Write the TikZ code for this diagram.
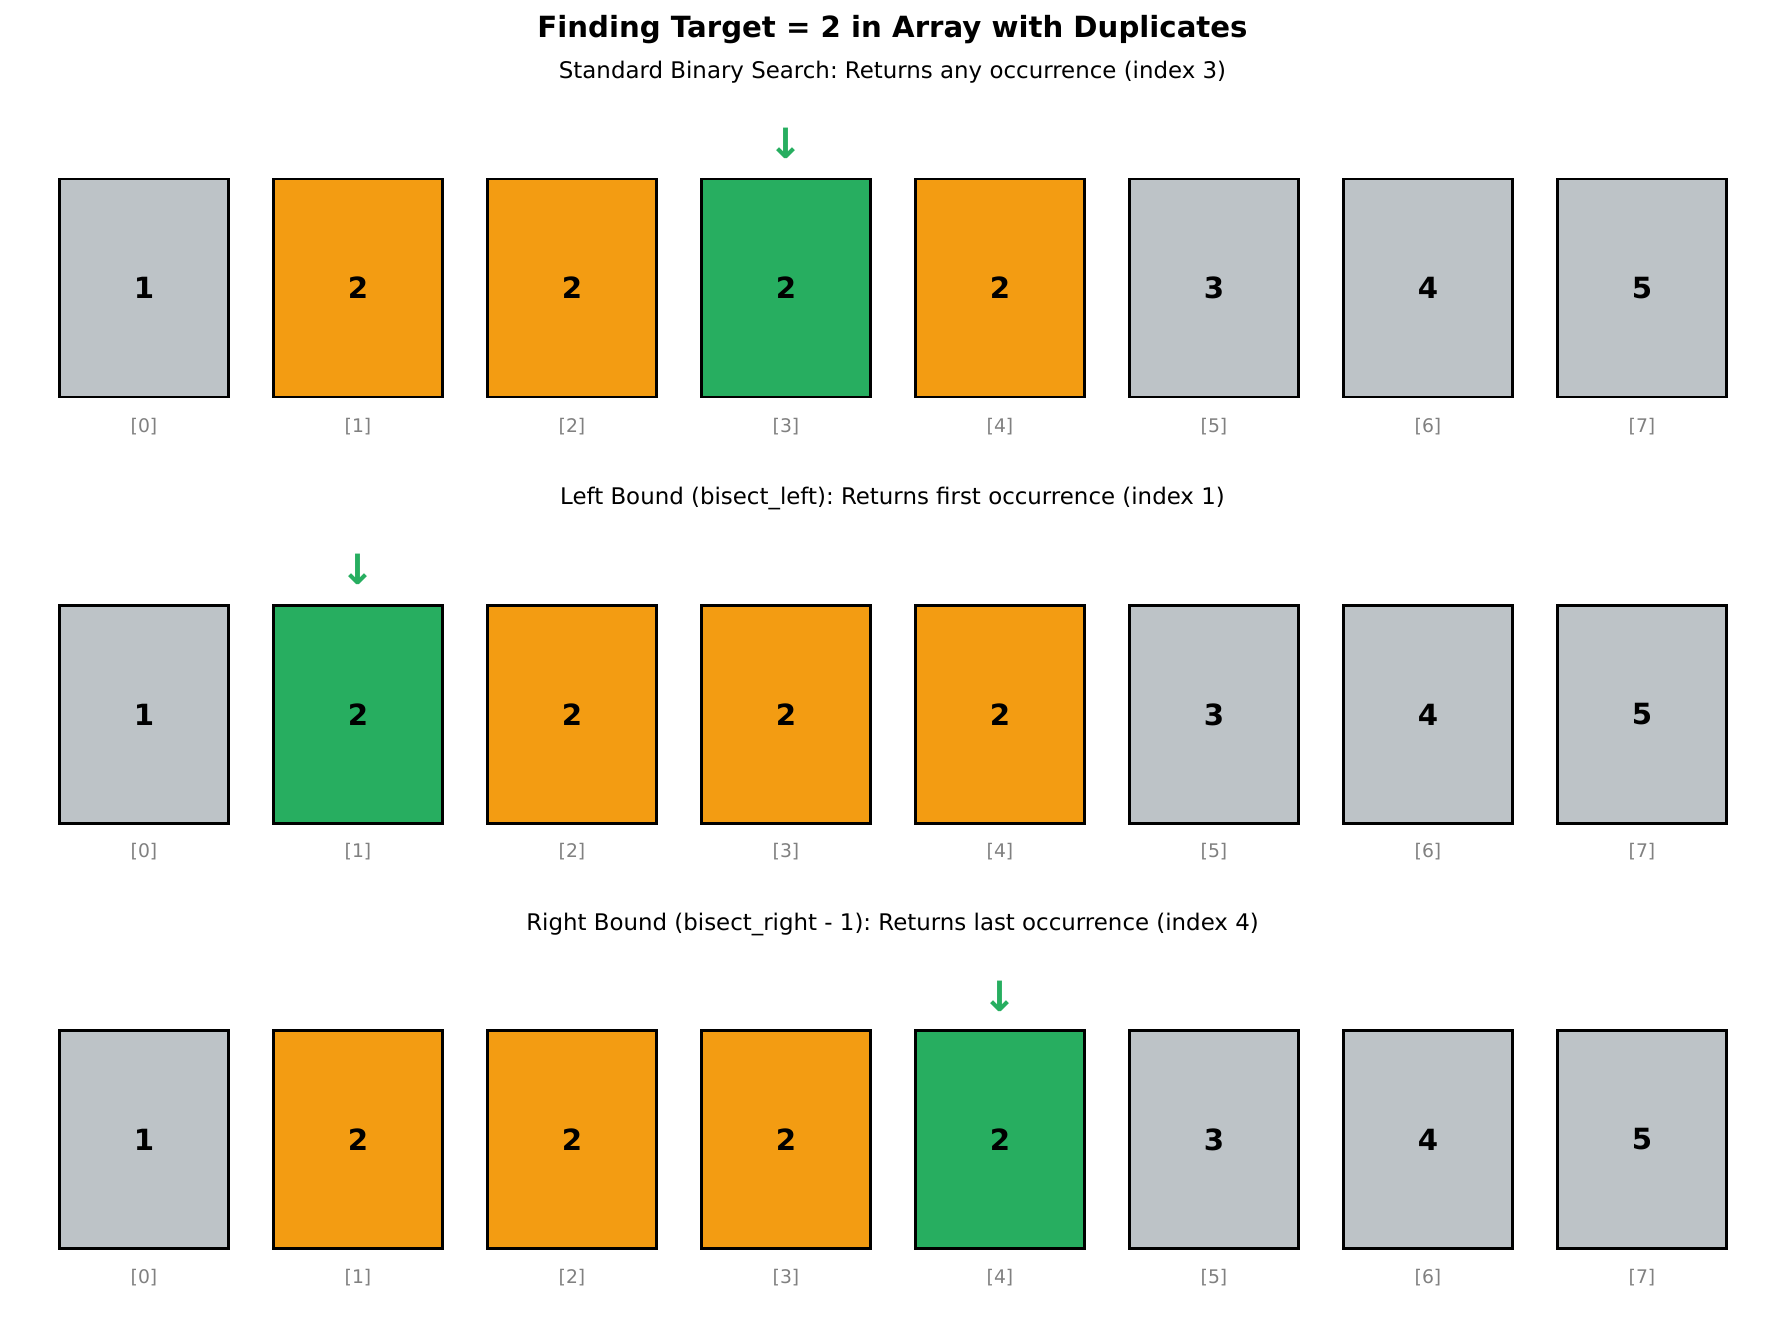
\documentclass[tikz,border=0pt]{standalone}
\usepackage{fontspec}
\setmainfont{DejaVu Sans}
\frenchspacing
\definecolor{cgray}{HTML}{BDC3C7}
\definecolor{corange}{HTML}{F39C12}
\definecolor{cgreen}{HTML}{27AE60}
\definecolor{cidx}{HTML}{808080}
\begin{document}
\begin{tikzpicture}[x=1pt,y=-1pt,
  cell/.style={draw=black,line width=2.8pt,minimum width=169pt,minimum height=218pt,inner sep=0pt,
    font=\fontsize{29.2}{34}\selectfont\bfseries},
  idx/.style={text=cidx,font=\fontsize{18.75}{22}\selectfont},
  sub/.style={font=\fontsize{22.9}{27}\selectfont},
  ttl/.style={font=\fontsize{29.2}{34}\selectfont\bfseries},
  ptr/.style={text=cgreen,font=\fontsize{41.7}{48}\selectfont\bfseries}]
\useasboundingbox (0,0) rectangle (1785,1330);
\node[ttl] (title) at (892.5,30) {Finding Target = 2 in Array with Duplicates};
\node[sub] (s1) at (892.5,72) {Standard Binary Search: Returns any occurrence (index 3)};
\node[sub] (s2) at (892.5,498) {Left Bound (bisect\_left): Returns first occurrence (index 1)};
\node[sub] (s3) at (892.5,924) {Right Bound (bisect\_right - 1): Returns last occurrence (index 4)};
\foreach \i/\v/\c in {0/1/cgray,1/2/corange,2/2/corange,3/2/cgreen,4/2/corange,5/3/cgray,6/4/cgray,7/5/cgray}{
  \node[cell,fill=\c] (a\i) at (144+214*\i,288) {\v};
  \node[idx] (ai\i) at (144+214*\i,427) {[\i]};
}
\foreach \i/\v/\c in {0/1/cgray,1/2/cgreen,2/2/corange,3/2/corange,4/2/corange,5/3/cgray,6/4/cgray,7/5/cgray}{
  \node[cell,fill=\c] (b\i) at (144+214*\i,714.5) {\v};
  \node[idx] (bi\i) at (144+214*\i,852) {[\i]};
}
\foreach \i/\v/\c in {0/1/cgray,1/2/corange,2/2/corange,3/2/corange,4/2/cgreen,5/3/cgray,6/4/cgray,7/5/cgray}{
  \node[cell,fill=\c] (c\i) at (144+214*\i,1139.5) {\v};
  \node[idx] (ci\i) at (144+214*\i,1278) {[\i]};
}
\node[ptr] (pa) at (786,143) {↓};
\node[ptr] (pb) at (358,569) {↓};
\node[ptr] (pc) at (1000,996) {↓};
\end{tikzpicture}
\end{document}
